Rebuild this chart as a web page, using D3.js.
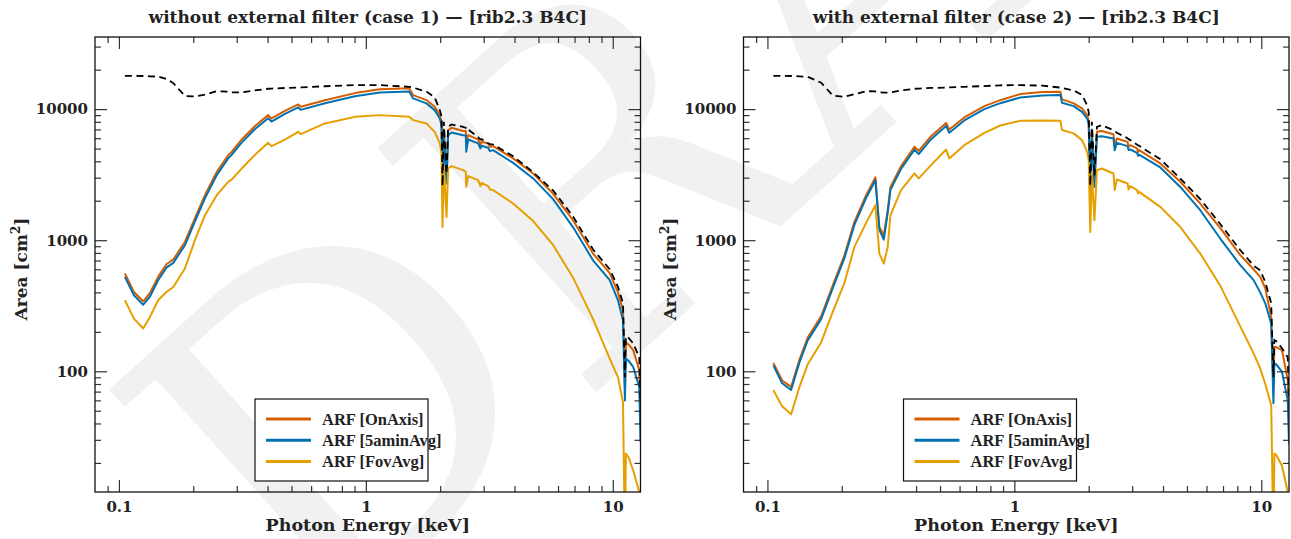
<!DOCTYPE html>
<html>
<head>
<meta charset="utf-8">
<title>ARF rib2.3 B4C</title>
<script src="https://d3js.org/d3.v7.min.js"></script>
<style>
  body { margin: 0; background: #fff; }
  text { font-family: "DejaVu Serif", serif; font-weight: bold; fill: #222; }
</style>
</head>
<body>
<script>
// ---- data ----
const titles = [
  "without external filter (case 1) \u2014 [rib2.3 B4C]",
  "with external filter (case 2) \u2014 [rib2.3 B4C]"
];
const seriesNames = ["ARF [OnAxis]", "ARF [5aminAvg]", "ARF [FovAvg]"];
const xMajor = [0.1, 1, 10];
const xMinor = [0.09, 0.2, 0.3, 0.4, 0.5, 0.6, 0.7, 0.8, 0.9, 2, 3, 4, 5, 6, 7, 8, 9];
const yMajor = [100, 1000, 10000];
const yMinor = [20, 30, 40, 50, 60, 70, 80, 90, 200, 300, 400, 500, 600, 700, 800, 900,
  2000, 3000, 4000, 5000, 6000, 7000, 8000, 9000, 20000, 30000];

// case 1
const energy1 = [0.1057, 0.115, 0.1254, 0.1336, 0.1441, 0.1557, 0.166, 0.185, 0.203, 0.223,
  0.249, 0.277, 0.286, 0.314, 0.355, 0.402, 0.415, 0.47, 0.532, 0.545, 0.683, 0.903, 1.14,
  1.5, 1.554, 1.76, 1.9, 1.994, 2.025, 2.044, 2.069, 2.122, 2.154, 2.223, 2.477, 2.54, 2.55,
  2.596, 2.85, 2.91, 2.94, 3.127, 3.18, 3.277, 3.949, 4.76, 5.73, 6.9, 8.32, 9.72, 10.5, 11.0,
  11.2, 11.3, 11.6, 12.1, 12.8, 12.95];
const onAxis1 = [557, 403, 342, 396, 525, 656, 713, 970, 1466, 2207,
  3320, 4450, 4720, 5860, 7410, 9000, 8490, 9700, 10860, 10410, 11700, 13250, 14200,
  14400, 12790, 11720, 10410, 9000, 8000, 2410, 7000, 2970, 6920, 7200, 6820, 6800, 5630,
  6330, 5860, 5310, 5630, 5475, 5155, 5220, 4210, 3230, 2270, 1422, 791, 560, 400, 290,
  76, 165, 160, 145, 102, 45];
const fiveMin1 = [525, 380, 322, 372, 495, 618, 672, 915, 1385, 2085,
  3140, 4210, 4470, 5550, 7020, 8530, 8040, 9200, 10300, 9870, 11100, 12550, 13400,
  13600, 12070, 11060, 9830, 8490, 7500, 2207, 6400, 2710, 6330, 6640, 6330, 6300, 4720,
  5860, 5475, 5010, 5250, 5070, 4780, 4865, 3890, 2960, 2056, 1260, 703, 496, 348, 245,
  60, 125, 120, 108, 76, 29];
const fovAvg1 = [348, 252, 212, 260, 348, 403, 440, 608, 1000, 1553,
  2207, 2790, 2900, 3520, 4460, 5530, 5220, 5860, 6710, 6440, 7780, 8730, 9000,
  8730, 8240, 7780, 6710, 5475, 4590, 1260, 3630, 1506, 3525, 3675, 3422, 3320, 2550,
  3085, 2873, 2585, 2735, 2585, 2440, 2410, 1905, 1400, 920, 520, 250, 125, 90, 58,
  5, 23.6, 22, 17.5, 12, 11];
const geometric1 = [17950, 17950, 17900, 17800, 17700, 17000, 15800, 12600, 12500, 12900,
  13700, 13600, 13400, 13400, 13900, 14300, 14350, 14500, 14600, 14650, 14950, 15250, 15250,
  14800, 14600, 13600, 12300, 9800, 8800, 2600, 8000, 3200, 7330, 7640, 7330, 7200, 6900,
  7000, 6100, 5860, 5900, 5500, 5400, 5370, 4375, 3300, 2400, 1520, 850, 600, 440, 330,
  90, 185, 180, 163, 128, 60];

// case 2
const energy2 = [0.1057, 0.1147, 0.1247, 0.1348, 0.1456, 0.165, 0.1839, 0.205, 0.225, 0.251,
  0.2737, 0.284, 0.296, 0.307, 0.315, 0.3476, 0.394, 0.41, 0.46, 0.529, 0.545, 0.627, 0.756,
  0.877, 1.057, 1.3, 1.536, 1.56, 1.738, 1.88, 1.97, 2.0, 2.03, 2.06, 2.11, 2.16, 2.26, 2.52,
  2.55, 2.6, 2.875, 2.9, 2.95, 3.14, 3.17, 3.2, 3.9, 4.7, 5.66, 6.82, 8.22, 9.31, 9.9, 10.38,
  10.97, 11.2, 11.3, 11.5, 12.13, 12.8, 12.95];
const onAxis2 = [116, 85, 76, 123, 181, 263, 453, 767, 1380, 2207,
  3015, 1260, 1090, 1700, 2550, 3675, 5155, 4810, 6220, 7850, 6995, 8640, 10540,
  11700, 13020, 13500, 13560, 11860, 11060, 10120, 9000, 8200, 2410, 7000, 2800, 6710, 6820, 6440,
  5155, 5970, 5630, 5155, 5310, 5010, 4700, 4865, 3850, 2790, 1905, 1240, 770, 600, 525, 430,
  260, 76, 153, 153, 145, 86, 40];
const fiveMin2 = [111, 81, 72, 117, 172, 250, 430, 730, 1310, 2100,
  2870, 1200, 1010, 1620, 2420, 3500, 4900, 4540, 5900, 7450, 6600, 8200, 10000,
  11100, 12280, 12700, 12790, 11170, 10540, 9530, 8490, 7700, 2140, 6400, 2550, 6150, 6220, 5970,
  4865, 5530, 5220, 4865, 4920, 4640, 4400, 4500, 3590, 2550, 1694, 1030, 645, 496, 400, 330,
  231, 57, 115, 113, 99, 60, 28];
const fovAvg2 = [72, 54, 47, 76, 113, 166, 284, 472, 889, 1356,
  1850, 791, 664, 889, 1553, 2410, 3230, 2960, 3740, 4920, 4210, 5310, 6590,
  7500, 8150, 8200, 8150, 6920, 6530, 5800, 4720, 4080, 1156, 3300, 1422, 3420, 3525, 3230,
  2410, 2905, 2710, 2440, 2585, 2410, 2270, 2340, 1795, 1260, 791, 450, 220, 137, 105, 80,
  55, 5, 23.6, 23, 19, 12, 11];
const geometric2 = [17950, 17950, 17900, 17800, 17650, 15900, 12700, 12400, 13000, 13700,
  13650, 13450, 13350, 13350, 13400, 13900, 14300, 14350, 14500, 14600, 14650, 14800, 15000,
  15200, 15250, 15100, 14600, 14500, 13900, 12800, 10700, 9500, 2600, 8000, 3100, 7330, 7550, 6900,
  6800, 6600, 6000, 5900, 5800, 5350, 5300, 5250, 4150, 2950, 2060, 1330, 840, 640, 590, 480,
  330, 90, 173, 170, 150, 128, 60];

const panels = [
  { title: titles[0], energy: energy1, series: [onAxis1, fiveMin1, fovAvg1], geom: geometric1 },
  { title: titles[1], energy: energy2, series: [onAxis2, fiveMin2, fovAvg2], geom: geometric2 }
];
const colors = ["#d55e00", "#0072b2", "#e69f00"];

// ---- layout ----
const W = 1291, H = 539;
const plotW = 545.5, plotTop = 37, plotBottom = 492;
const panelLeft = [95, 743.5];

const svg = d3.select("body").append("svg")
  .attr("width", W).attr("height", H);

// watermark (kept inside the picture)
svg.append("clipPath").attr("id", "page")
  .append("rect").attr("width", W).attr("height", H);
svg.append("g").attr("clip-path", "url(#page)")
  .append("text")
  .attr("transform", "translate(310,650) rotate(-42)")
  .style("font-family", "'DejaVu Serif', serif")
  .style("font-weight", "normal")
  .style("font-size", "450px")
  .style("fill", "#f1f1f1")
  .text("DRAFT");

const y = d3.scaleLog().domain([12, 35500]).range([plotBottom, plotTop]);

panels.forEach((p, i) => {
  const left = panelLeft[i];
  const x = d3.scaleLog().domain([0.08, 12.95]).range([left, left + plotW]);
  const g = svg.append("g");

  const clipId = "clip" + i;
  g.append("clipPath").attr("id", clipId)
    .append("rect").attr("x", left).attr("y", plotTop)
    .attr("width", plotW).attr("height", plotBottom - plotTop);

  const line = vals => d3.line()
    .x((d, k) => x(p.energy[k]))
    .y(d => y(d))(vals);

  const curves = g.append("g").attr("clip-path", `url(#${clipId})`);
  p.series.forEach((vals, k) => {
    curves.append("path")
      .attr("d", line(vals))
      .attr("fill", "none")
      .attr("stroke", colors[k])
      .attr("stroke-width", 2)
      .attr("stroke-linejoin", "round");
  });
  curves.append("path")
    .attr("d", line(p.geom))
    .attr("fill", "none")
    .attr("stroke", "#000")
    .attr("stroke-width", 1.8)
    .attr("stroke-dasharray", "7,4.5");

  // axes: inward ticks on all four sides
  const axisStyle = sel => {
    sel.select(".domain").remove();
    sel.selectAll(".tick line").attr("stroke", "#333").attr("stroke-width", 1.2);
    sel.selectAll(".tick text").style("font-size", "15px").style("fill", "#222");
  };
  g.append("g").attr("transform", `translate(0,${plotBottom})`)
    .call(d3.axisBottom(x).tickValues(xMajor).tickSize(-12).tickPadding(9)
      .tickFormat(d3.format("")))
    .call(axisStyle);
  g.append("g").attr("transform", `translate(0,${plotBottom})`)
    .call(d3.axisBottom(x).tickValues(xMinor).tickSize(-6).tickFormat(""))
    .call(axisStyle);
  g.append("g").attr("transform", `translate(0,${plotTop})`)
    .call(d3.axisTop(x).tickValues(xMajor).tickSize(-12).tickFormat(""))
    .call(axisStyle);
  g.append("g").attr("transform", `translate(0,${plotTop})`)
    .call(d3.axisTop(x).tickValues(xMinor).tickSize(-6).tickFormat(""))
    .call(axisStyle);
  g.append("g").attr("transform", `translate(${left},0)`)
    .call(d3.axisLeft(y).tickValues(yMajor).tickSize(-12).tickPadding(7)
      .tickFormat(d3.format("")))
    .call(axisStyle);
  g.append("g").attr("transform", `translate(${left},0)`)
    .call(d3.axisLeft(y).tickValues(yMinor).tickSize(-6).tickFormat(""))
    .call(axisStyle);
  g.append("g").attr("transform", `translate(${left + plotW},0)`)
    .call(d3.axisRight(y).tickValues(yMajor).tickSize(-12).tickFormat(""))
    .call(axisStyle);
  g.append("g").attr("transform", `translate(${left + plotW},0)`)
    .call(d3.axisRight(y).tickValues(yMinor).tickSize(-6).tickFormat(""))
    .call(axisStyle);

  g.append("rect")
    .attr("x", left).attr("y", plotTop)
    .attr("width", plotW).attr("height", plotBottom - plotTop)
    .attr("fill", "none").attr("stroke", "#111").attr("stroke-width", 1.3);

  // titles and labels
  g.append("text")
    .attr("x", left + plotW / 2).attr("y", 23)
    .attr("text-anchor", "middle")
    .style("font-size", "17px")
    .text(p.title);
  g.append("text")
    .attr("x", left + plotW / 2).attr("y", 531)
    .attr("text-anchor", "middle")
    .style("font-size", "17.5px")
    .text("Photon Energy [keV]");
  const yl = g.append("text")
    .attr("transform", `translate(${left - 68},269) rotate(-90)`)
    .attr("text-anchor", "middle")
    .style("font-size", "17px");
  yl.append("tspan").text("Area [cm");
  yl.append("tspan").attr("dy", -7).style("font-size", "12px").text("2");
  yl.append("tspan").attr("dy", 7).text("]");

  // legend
  const lx = left + 160, ly = 399;
  g.append("rect")
    .attr("x", lx).attr("y", ly).attr("width", 173).attr("height", 82)
    .attr("fill", "#fff").attr("stroke", "#111").attr("stroke-width", 1.2);
  seriesNames.forEach((name, k) => {
    const yy = ly + 20 + k * 21.3;
    g.append("line")
      .attr("x1", lx + 11).attr("x2", lx + 56)
      .attr("y1", yy).attr("y2", yy)
      .attr("stroke", colors[k]).attr("stroke-width", 3);
    g.append("text")
      .attr("x", lx + 67).attr("y", yy + 5.5)
      .style("font-family", "'Liberation Serif', serif")
      .style("font-size", "16.5px")
      .text(name);
  });
});
</script>
</body>
</html>
